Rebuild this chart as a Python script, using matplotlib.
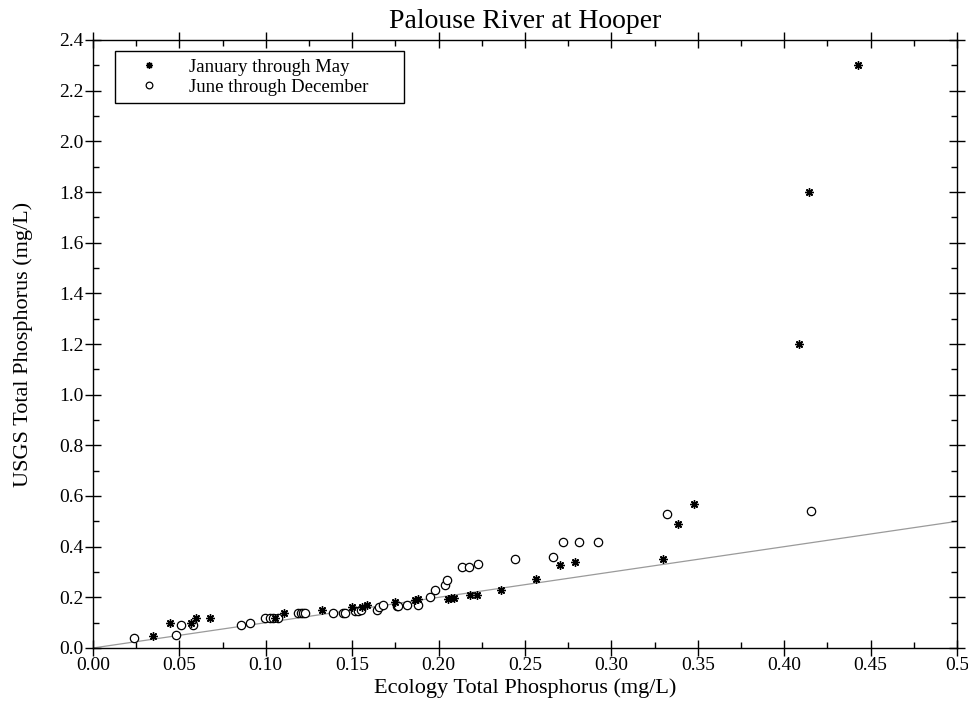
import numpy as np
import matplotlib
matplotlib.use("Agg")
import matplotlib.pyplot as plt

plt.rcParams['font.family'] = ['Liberation Serif', 'DejaVu Serif']

# January through May (asterisks)
jan_may_x = [0.0345, 0.0447, 0.0566, 0.0597, 0.0678, 0.1054, 0.1106, 0.1327,
             0.1497, 0.1555, 0.1588, 0.1748, 0.1863, 0.1879, 0.2056, 0.2070,
             0.2089, 0.2182, 0.2220, 0.2361, 0.2562, 0.2703, 0.2789, 0.3300,
             0.3384, 0.3480, 0.4086, 0.4145, 0.4425]
jan_may_y = [0.046, 0.099, 0.099, 0.119, 0.119, 0.120, 0.139, 0.150,
             0.161, 0.160, 0.170, 0.180, 0.190, 0.192, 0.192, 0.199,
             0.199, 0.208, 0.209, 0.229, 0.271, 0.329, 0.341, 0.350,
             0.490, 0.569, 1.20, 1.80, 2.30]

# June through December (open circles)
jun_dec_x = [0.0235, 0.0478, 0.0507, 0.0578, 0.0857, 0.0908, 0.0996, 0.1025,
             0.1040, 0.1070, 0.1188, 0.1202, 0.1213, 0.1227, 0.1387, 0.1445,
             0.1458, 0.1516, 0.1535, 0.1551, 0.1645, 0.1657, 0.1676, 0.1757,
             0.1767, 0.1819, 0.1879, 0.1950, 0.1979, 0.2037, 0.2051, 0.2137,
             0.2178, 0.2227, 0.2442, 0.2660, 0.2718, 0.2810, 0.2921, 0.3320,
             0.4153]
jun_dec_y = [0.040, 0.050, 0.089, 0.089, 0.089, 0.099, 0.120, 0.120,
             0.120, 0.120, 0.137, 0.140, 0.140, 0.140, 0.139, 0.140,
             0.140, 0.146, 0.146, 0.150, 0.150, 0.163, 0.170, 0.167,
             0.167, 0.170, 0.170, 0.200, 0.230, 0.249, 0.270, 0.320,
             0.320, 0.330, 0.350, 0.359, 0.420, 0.420, 0.420, 0.530,
             0.540]

# 1:1 line
line_x = [0.0, 0.5]
line_y = [0.0, 0.5]

xtick_labels = ['0.00', '0.05', '0.10', '0.15', '0.20', '0.25', '0.30',
                '0.35', '0.40', '0.45', '0.5']

fig = plt.figure(figsize=(9.68, 7.02), dpi=100)
ax = fig.add_axes([93/968, 1-648/702, 864/968, 608/702])

ax.plot(line_x, line_y, color='#9a9a9a', lw=0.9, zorder=1)
ax.plot(jan_may_x, jan_may_y, ls='none', marker=(8, 2, 0), ms=6, color='black',
        mew=1.0, label='January through May', zorder=3)
ax.plot(jun_dec_x, jun_dec_y, ls='none', marker='o', ms=6, mfc='white',
        mec='black', mew=0.9, label='June through December', zorder=2)

ax.set_xlim(0, 0.5)
ax.set_ylim(0, 2.4)
ax.set_xticks(np.arange(0, 0.501, 0.05))
ax.set_xticklabels(xtick_labels)
ax.set_yticks(np.arange(0, 2.41, 0.2))
ax.set_yticklabels(['%.1f' % v for v in np.arange(0, 2.41, 0.2)])
ax.set_xticks(np.arange(0.025, 0.5, 0.05), minor=True)
ax.set_yticks(np.arange(0.1, 2.4, 0.2), minor=True)
ax.tick_params(which='major', direction='inout', length=11, width=1,
               top=True, right=True, labelsize=14, pad=1)
ax.tick_params(which='minor', direction='in', length=4, width=1,
               top=True, right=True)
for s in ax.spines.values():
    s.set_linewidth(1)

ax.set_title('Palouse River at Hooper', fontsize=20, pad=9)
ax.set_xlabel('Ecology Total Phosphorus (mg/L)', fontsize=16, labelpad=3)
ax.set_ylabel('USGS Total Phosphorus (mg/L)', fontsize=16, labelpad=19)

leg = ax.legend(loc='upper left', bbox_to_anchor=(22/864, 0.972, 289/864, 0.01),
                mode='expand', fontsize=13.5, frameon=True, fancybox=False,
                edgecolor='black', framealpha=1, markerscale=0.8,
                handlelength=2.8, handletextpad=0.75, borderpad=0.4,
                labelspacing=0.15, borderaxespad=0)
leg.get_frame().set_linewidth(1)

fig.savefig('out.png', dpi=100)
